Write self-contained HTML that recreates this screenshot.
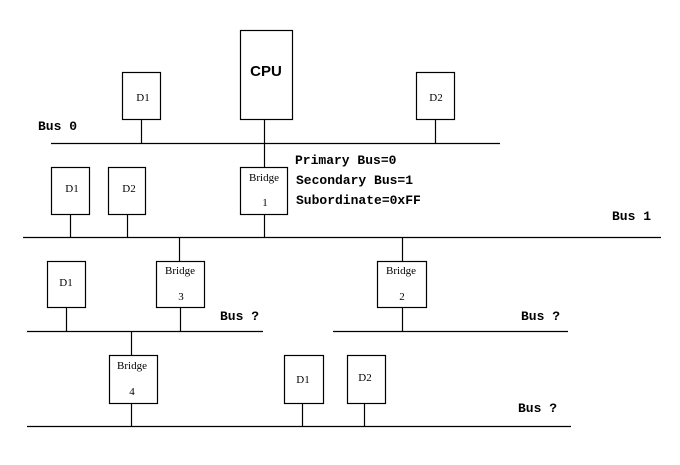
<!DOCTYPE html>
<html><head><style>
body{margin:0;background:#fff;}
svg text{font-family:"Liberation Mono",monospace;fill:#000;}
.b{font-weight:bold;font-size:13px;}
.s{font-family:"Liberation Serif",serif !important;font-size:11px;}
</style></head><body>
<svg width="680" height="460" xmlns="http://www.w3.org/2000/svg">
<g stroke="#000" stroke-width="1.2" fill="none">
<rect x="240.5" y="30.5" width="52" height="89"/>
<rect x="122.5" y="72.5" width="38" height="47"/>
<rect x="416.5" y="72.5" width="38" height="47"/>
<line x1="51" y1="143.5" x2="500" y2="143.5"/>
<line x1="141.5" y1="119" x2="141.5" y2="143"/>
<line x1="435.5" y1="119" x2="435.5" y2="143"/>
<line x1="264.5" y1="119" x2="264.5" y2="167"/>
<rect x="240.5" y="167.5" width="47" height="47"/>
<rect x="51.5" y="167.5" width="38" height="47"/>
<rect x="108.5" y="167.5" width="37" height="47"/>
<line x1="23" y1="237.5" x2="661" y2="237.5"/>
<line x1="70.5" y1="214" x2="70.5" y2="237"/>
<line x1="127.5" y1="214" x2="127.5" y2="237"/>
<line x1="264.5" y1="214" x2="264.5" y2="237"/>
<line x1="179.5" y1="237" x2="179.5" y2="261"/>
<line x1="402.5" y1="237" x2="402.5" y2="261"/>
<rect x="47.5" y="261.5" width="38" height="46"/>
<rect x="156.5" y="261.5" width="48" height="46"/>
<rect x="377.5" y="261.5" width="49" height="46"/>
<line x1="27" y1="331.5" x2="263" y2="331.5"/>
<line x1="333" y1="331.5" x2="568" y2="331.5"/>
<line x1="66.5" y1="307" x2="66.5" y2="331"/>
<line x1="180.5" y1="307" x2="180.5" y2="331"/>
<line x1="402.5" y1="307" x2="402.5" y2="331"/>
<line x1="131.5" y1="331" x2="131.5" y2="355"/>
<rect x="109.5" y="355.5" width="48" height="48"/>
<rect x="284.5" y="355.5" width="39" height="48"/>
<rect x="347.5" y="355.5" width="38" height="48"/>
<line x1="27" y1="426.5" x2="571" y2="426.5"/>
<line x1="131.5" y1="403" x2="131.5" y2="426"/>
<line x1="302.5" y1="403" x2="302.5" y2="426"/>
<line x1="364.5" y1="403" x2="364.5" y2="426"/>
</g>
<text x="266" y="76" text-anchor="middle" style="font-family:'Liberation Sans',sans-serif;font-size:15px;font-weight:bold">CPU</text>
<text class="s" x="143" y="101" text-anchor="middle">D1</text>
<text class="s" x="436" y="101" text-anchor="middle">D2</text>
<text class="s" x="72" y="192" text-anchor="middle">D1</text>
<text class="s" x="129" y="192" text-anchor="middle">D2</text>
<text class="s" x="264" y="181" text-anchor="middle">Bridge</text>
<text class="s" x="265" y="206" text-anchor="middle">1</text>
<text class="s" x="66" y="286" text-anchor="middle">D1</text>
<text class="s" x="180" y="274" text-anchor="middle">Bridge</text>
<text class="s" x="181" y="300" text-anchor="middle">3</text>
<text class="s" x="401" y="274" text-anchor="middle">Bridge</text>
<text class="s" x="402" y="300" text-anchor="middle">2</text>
<text class="s" x="132" y="369" text-anchor="middle">Bridge</text>
<text class="s" x="132" y="395" text-anchor="middle">4</text>
<text class="s" x="303" y="383" text-anchor="middle">D1</text>
<text class="s" x="365" y="381" text-anchor="middle">D2</text>
<text class="b" x="38" y="130">Bus 0</text>
<text class="b" x="612" y="220">Bus 1</text>
<text class="b" x="220" y="320">Bus ?</text>
<text class="b" x="521" y="320">Bus ?</text>
<text class="b" x="518" y="412">Bus ?</text>
<text class="b" x="295" y="164">Primary Bus=0</text>
<text class="b" x="296" y="184">Secondary Bus=1</text>
<text class="b" x="296" y="204">Subordinate=0xFF</text>
</svg>
</body></html>
